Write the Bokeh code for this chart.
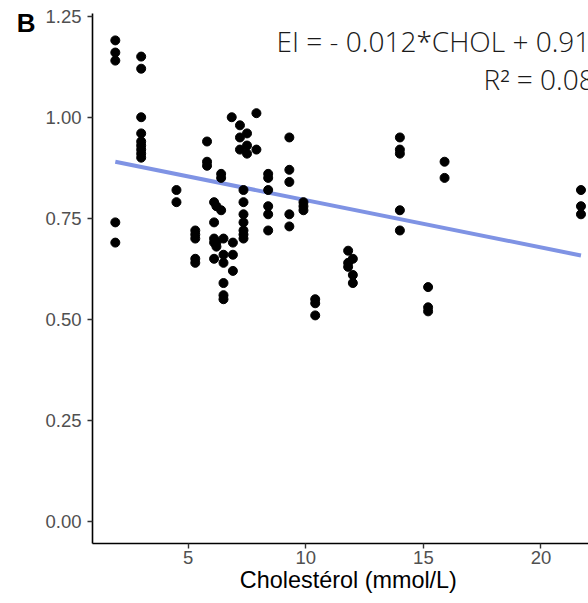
from bokeh.plotting import figure
from bokeh.models import (Range1d, FixedTicker, PrintfTickFormatter, Label, ColumnDataSource,
                          LinearAxis, CustomJSTickFormatter)
from bokeh.embed import file_html
from bokeh.resources import INLINE

# ---- data ----
chol = [1.9, 1.9, 1.9, 1.9, 1.9,
        3.0, 3.0, 3.0, 3.0, 3.0, 3.0, 3.0, 3.0, 3.0,
        4.5, 4.5,
        5.3, 5.3, 5.3, 5.3, 5.3,
        5.8, 5.8, 5.8,
        6.1, 6.1, 6.1, 6.1, 6.1,
        6.2, 6.2, 6.2,
        6.4, 6.4, 6.4,
        6.5, 6.5, 6.5, 6.5, 6.5, 6.5,
        6.85,
        6.9, 6.9, 6.9,
        7.2, 7.2, 7.2,
        7.35, 7.35, 7.35, 7.35, 7.35, 7.35, 7.35,
        7.5, 7.5, 7.5,
        7.9, 7.9,
        8.4, 8.4, 8.4, 8.4, 8.4, 8.4,
        9.3, 9.3, 9.3, 9.3, 9.3,
        9.9, 9.9, 9.9,
        10.4, 10.4, 10.4,
        11.8, 11.8, 11.8,
        12.0, 12.0, 12.0,
        14.0, 14.0, 14.0, 14.0, 14.0,
        15.2, 15.2, 15.2,
        15.9, 15.9,
        21.7, 21.7, 21.7]
ei = [1.19, 1.16, 1.14, 0.74, 0.69,
      1.15, 1.12, 1.00, 0.96, 0.94, 0.93, 0.92, 0.91, 0.90,
      0.82, 0.79,
      0.72, 0.71, 0.70, 0.65, 0.64,
      0.94, 0.89, 0.88,
      0.79, 0.74, 0.70, 0.69, 0.65,
      0.78, 0.69, 0.68,
      0.86, 0.85, 0.77,
      0.70, 0.66, 0.64, 0.59, 0.56, 0.55,
      1.00,
      0.69, 0.66, 0.62,
      0.98, 0.95, 0.92,
      0.82, 0.79, 0.76, 0.74, 0.72, 0.71, 0.70,
      0.96, 0.93, 0.91,
      1.01, 0.92,
      0.86, 0.85, 0.82, 0.78, 0.76, 0.72,
      0.95, 0.87, 0.84, 0.76, 0.73,
      0.79, 0.78, 0.77,
      0.55, 0.54, 0.51,
      0.67, 0.64, 0.63,
      0.65, 0.61, 0.59,
      0.95, 0.92, 0.91, 0.77, 0.72,
      0.58, 0.53, 0.52,
      0.89, 0.85,
      0.82, 0.78, 0.76]

fit_slope = -0.0117
fit_intercept = 0.912
x_ticks = [5, 10, 15, 20]
y_ticks = [0.0, 0.25, 0.50, 0.75, 1.00, 1.25]
equation_text = "EI = - 0.012*CHOL + 0.91"
r2_text = "R\u00b2 = 0.08"
panel_letter = "B"
x_title = "Cholest\u00e9rol (mmol/L)"

p = figure(width=588, height=603, output_backend="svg", toolbar_location=None,
           x_range=Range1d(0.93, 22.02), y_range=Range1d(-0.054, 1.2565),
           min_border_left=92, min_border_right=0, min_border_top=13, min_border_bottom=60)
p.background_fill_color = "white"
p.border_fill_color = "white"
p.outline_line_color = None
p.xgrid.visible = False
p.ygrid.visible = False

# regression line across the data range
xl = [min(chol), max(chol)]
yl = [fit_intercept + fit_slope * v for v in xl]
p.line(xl, yl, line_color="#7F93E4", line_width=4)

src = ColumnDataSource(dict(x=chol, y=ei))
p.scatter("x", "y", source=src, size=9, fill_color="black", line_color="black")

for ax in (p.xaxis[0], p.yaxis[0]):
    ax.axis_line_color = "black"
    ax.axis_line_width = 1.6
    ax.major_tick_line_color = "#333333"
    ax.major_tick_line_width = 1.4
    ax.major_tick_out = 5
    ax.major_tick_in = 0
    ax.minor_tick_line_color = None
    ax.major_label_text_color = "#505050"
    ax.major_label_text_font = "Liberation Sans"
    ax.major_label_text_font_size = "18.5px"

p.xaxis.major_label_standoff = 2
p.yaxis.major_label_standoff = 6
p.xaxis.ticker = FixedTicker(ticks=x_ticks)
p.yaxis.ticker = FixedTicker(ticks=y_ticks)
p.yaxis.formatter = PrintfTickFormatter(format="%.2f")


def text_axis(tick, text, size, bold, standoff):
    a = LinearAxis(ticker=FixedTicker(ticks=[tick]),
                   formatter=CustomJSTickFormatter(code="return %r;" % text))
    a.axis_line_color = None
    a.major_tick_line_color = None
    a.minor_tick_line_color = None
    a.major_tick_out = 0
    a.major_tick_in = 0
    a.major_label_standoff = standoff
    a.major_label_text_font = "Liberation Sans"
    a.major_label_text_font_size = size
    a.major_label_text_font_style = "bold" if bold else "normal"
    a.major_label_text_color = "black"
    return a


# axis title centred where the reference centres it, and the panel letter
p.add_layout(text_axis(11.81, x_title, "23.4px", False, 0), "below")
p.add_layout(text_axis(1.2324, panel_letter, "26px", True, 7), "left")

p.add_layout(Label(x=276, y=40.5, x_units="canvas", y_units="canvas", text=equation_text,
                   text_font="'Open Sans Light', 'Open Sans'", text_font_size="28px",
                   text_color="#1A1A1A", text_baseline="alphabetic", text_align="left"))
p.add_layout(Label(x=483, y=78.3, x_units="canvas", y_units="canvas", text=r2_text,
                   text_font="'Open Sans Light', 'Open Sans'", text_font_size="28px",
                   text_color="#1A1A1A", text_baseline="alphabetic", text_align="left"))

open("out.html", "w").write(file_html(p, INLINE))
